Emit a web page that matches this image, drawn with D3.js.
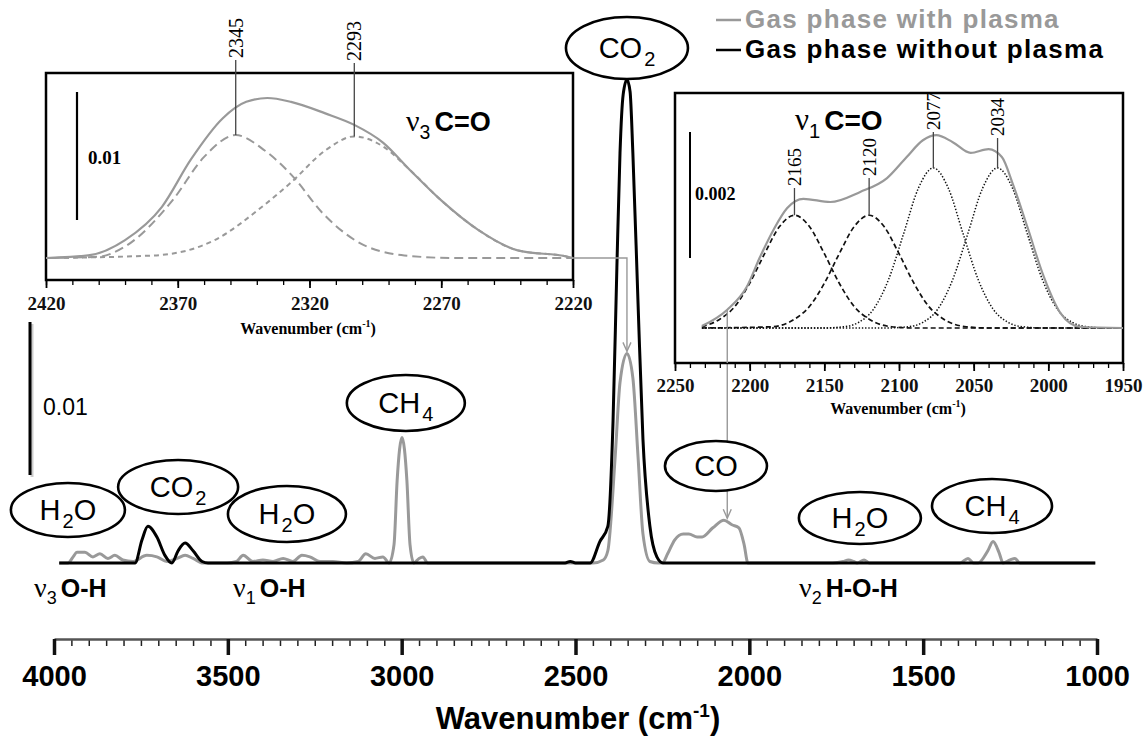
<!DOCTYPE html>
<html lang="en">
<head>
<meta charset="UTF-8">
<title>Gas phase FTIR spectra</title>
<style>
  body { margin: 0; background: #fff; }
  svg { display: block; font-family: "Liberation Sans", Arial, sans-serif; }
</style>
</head>
<body>
<svg id="chart" width="1145" height="739"></svg>
<script src="https://d3js.org/d3.v7.min.js"></script>
<script>
// ---- main spectra: [wavenumber (cm-1), absorbance] ----
const withPlasma = [
  [3985,0],[3960,0],[3945,0.0004],[3934,0.0007],[3911,0.0007],[3888,0.0004],[3868,0.0006],
  [3845,0.0003],[3825,0.0005],[3802,0.0002],[3773,0.0001],[3733,0.0005],[3704,0.0004],
  [3675,0.0001],[3646,0.0003],[3623,0.0005],[3600,0.0003],[3571,0],[3502,0],[3475,0.0001],
  [3456,0.0005],[3428,0.0001],[3399,0.0002],[3370,0.0001],[3341,0.0003],[3313,0.0001],
  [3287,0.0005],[3264,0.0004],[3235,0.0001],[3198,0.0001],[3158,0],[3125,0.0001],
  [3103,0.0006],[3077,0.0003],[3054,0.0004],[3036,0],[3022,0.0012],[3013,0.0054],
  [2999,0.0082],[2985,0.0054],[2976,0.0012],[2965,0],[2950,0.0003],[2939,0.0004],[2925,0],
  [2450,0],[2420,0.0002],[2407,0.0008],[2386,0.0069],[2372,0.0118],[2352,0.0137],
  [2335,0.0121],[2320,0.0069],[2306,0.0019],[2286,0.0001],[2262,0],[2250,0],[2235,0.0006],
  [2215,0.0015],[2190,0.0019],[2174,0.0019],[2150,0.0017],[2136,0.0017],[2105,0.0023],
  [2073,0.0028],[2050,0.0025],[2030,0.0023],[2015,0.0012],[2004,0],[1760,0],[1730,0.0001],
  [1715,0.0002],[1700,0.0001],[1690,0],[1670,0.0002],[1655,0],[1394,0],[1371,0.0003],
  [1355,0],[1342,0],[1314,0.0008],[1299,0.0014],[1282,0.0007],[1270,0],[1250,0.0002],
  [1236,0.0003],[1222,0],[1005,0]
];
const withoutPlasma = [
  [3985,0],[3767,0],[3747,0.0015],[3730,0.0024],[3704,0.0017],[3681,0.0005],[3661,0],
  [3643,0.0008],[3623,0.0013],[3600,0.0008],[3574,0.0001],[3557,0],[2530,0],[2515,0.0001],
  [2500,0],[2458,0],[2430,0.0014],[2407,0.0024],[2392,0.0093],[2381,0.0193],[2372,0.0268],
  [2363,0.0306],[2352,0.0316],[2343,0.0308],[2335,0.0268],[2320,0.0169],[2306,0.0081],
  [2286,0.0024],[2266,0.0004],[2248,0],[1005,0]
];

// ---- nu3 C=O inset (2420-2220 cm-1) ----
const v3Envelope = [
  [2420,0],[2404,0.0002],[2390,0.0014],[2376,0.0040],[2365,0.0077],[2353,0.0109],
  [2344,0.0122],[2336,0.0125],[2327,0.0122],[2314,0.0113],[2303,0.0104],[2292,0.0090],
  [2282,0.0069],[2270,0.0045],[2256,0.0022],[2241,0.0006],[2222,0.0001],[2220,0]
];
const v3Band2345 = [
  [2420,0],[2400,0.0001],[2390,0.0009],[2372,0.0045],[2360,0.0079],[2348,0.0096],
  [2337,0.0084],[2326,0.0063],[2315,0.0035],[2302,0.0013],[2284,0.0002],[2265,0],[2220,0]
];
const v3Band2293 = [
  [2420,0],[2379,0.0002],[2356,0.0014],[2338,0.0040],[2327,0.0059],[2314,0.0084],
  [2303,0.0095],[2292,0.0087],[2282,0.0069],[2270,0.0045],[2256,0.0022],[2241,0.0006],
  [2222,0.0001],[2220,0]
];
const v3PeakLabels = ["2345", "2293"];

// ---- nu1 C=O inset (2250-1950 cm-1) ----
const v1Envelope = [
  [2232,0.00003],[2215,0.00029],[2202,0.00065],[2193,0.00113],[2184,0.00156],[2175,0.0019],
  [2164,0.00205],[2146,0.002],[2126,0.00216],[2108,0.00238],[2095,0.00271],[2084,0.00298],
  [2075,0.00306],[2064,0.00295],[2052,0.00278],[2040,0.00284],[2031,0.00271],[2024,0.0023],
  [2014,0.0016],[2003,0.00081],[1992,0.00024],[1979,0.00002],[1950,0]
];
const v1Band2165 = [
  [2232,0.00002],[2220,0.00014],[2210,0.00034],[2200,0.00071],[2190,0.00118],[2180,0.00161],
  [2170,0.00179],[2160,0.00161],[2150,0.00118],[2140,0.00071],[2130,0.00034],[2120,0.00014],
  [2105,0.00002],[2090,0],[1950,0]
];
const v1Band2120 = [
  [2232,0],[2185,0.00002],[2170,0.00014],[2160,0.00034],[2150,0.00071],[2140,0.00118],
  [2130,0.00161],[2120,0.00179],[2110,0.00161],[2100,0.00118],[2090,0.00071],[2080,0.00034],
  [2070,0.00014],[2055,0.00002],[2040,0],[1950,0]
];
const v1Band2077 = [
  [2232,0],[2152,0],[2137,0.00002],[2127,0.00009],[2117,0.0003],[2107,0.00077],[2097,0.00149],
  [2087,0.00222],[2077,0.00254],[2067,0.00222],[2057,0.00149],[2047,0.00077],[2037,0.0003],
  [2027,0.00009],[2017,0.00002],[2002,0],[1950,0]
];
const v1Band2034 = [
  [2232,0],[2109,0],[2094,0.00002],[2084,0.00009],[2074,0.0003],[2064,0.00077],[2054,0.00149],
  [2044,0.00222],[2034,0.00254],[2024,0.00222],[2014,0.00149],[2004,0.00077],[1994,0.0003],
  [1984,0.00009],[1974,0.00002],[1960,0],[1950,0]
];
const v1PeakLabels = ["2165", "2120", "2077", "2034"];

// ---- ticks / texts ----
const mainTicks = d3.range(4000, 999, -500);
const mainMinorTicks = d3.range(4000, 999, -50);
const v3Ticks = d3.range(2420, 2219, -50);
const v3MinorTicks = d3.range(2420, 2219, -10);
const v1Ticks = d3.range(2250, 1949, -50);
const v1MinorTicks = d3.range(2250, 1949, -10);
const legendLabels = ["Gas phase with plasma", "Gas phase without plasma"];
const species = [["H","2","O"], ["CO","2",""], ["H","2","O"], ["CH","4",""],
                 ["CO","2",""], ["CO","",""], ["H","2","O"], ["CH","4",""]];
const modes = [["3","O-H"], ["1","O-H"], ["2","H-O-H"]];

// ---- layout (pixels) ----
const speciesPos = [
  {wn:3960, y:510, rx:57, ry:27}, {wn:3643, y:487, rx:60, ry:27}, {wn:3330, y:514, rx:59, ry:28},
  {wn:2988, y:403, rx:59, ry:28}, {wn:2352, y:48, rx:61, ry:31}, {wn:2096, y:466, rx:51, ry:25},
  {wn:1682, y:518, rx:61, ry:26}, {wn:1302, y:506, rx:60, ry:27}
];
const modePos = [{x:34, y:597}, {x:233, y:597}, {x:799, y:597}];
const v3LeaderTop = [60, 63];
const v1LeaderTop = [188, 178, 132, 138];

const grey = "#999";
const fmt = d3.format("d");
const svg = d3.select("#chart");

const line = (sx, sy) => d3.line()
  .x(d => sx(d[0])).y(d => sy(d[1]))
  .curve(d3.curveMonotoneX);

// ================= main panel =================
const x = d3.scaleLinear().domain([4000, 1000]).range([54, 1097]);
const y = d3.scaleLinear().domain([0, 0.01]).range([563, 410]);

// 0.01 scale bar
const barLen = y(0) - y(0.01);
svg.append("line").attr("x1", 32).attr("x2", 32).attr("y1", 477).attr("y2", 477 - barLen)
  .attr("stroke", "#ccc").attr("stroke-width", 3);
svg.append("line").attr("x1", 30).attr("x2", 30).attr("y1", 475).attr("y2", 475 - barLen)
  .attr("stroke", "#000").attr("stroke-width", 3);
svg.append("text").attr("x", 43).attr("y", 415).attr("font-size", 23).text("0.01");

svg.append("path").datum(withPlasma).attr("d", line(x, y))
  .attr("fill", "none").attr("stroke", grey).attr("stroke-width", 3);
svg.append("path").datum(withoutPlasma).attr("d", line(x, y))
  .attr("fill", "none").attr("stroke", "#000").attr("stroke-width", 3);

// x axis
const minorAxis = svg.append("g").attr("transform", "translate(0,639)")
  .call(d3.axisBottom(x).tickValues(mainMinorTicks).tickSize(7).tickSizeOuter(0).tickFormat(""));
minorAxis.select(".domain").remove();
minorAxis.selectAll(".tick line").attr("stroke", "#222").attr("stroke-width", 1.5);

const majorAxis = svg.append("g").attr("transform", "translate(0,639)")
  .call(d3.axisBottom(x).tickValues(mainTicks).tickSize(16).tickPadding(10)
    .tickSizeOuter(0).tickFormat(fmt));
majorAxis.select(".domain").attr("stroke", "#555").attr("stroke-width", 2.5);
majorAxis.selectAll(".tick line").attr("stroke", "#111").attr("stroke-width", 3.5);
majorAxis.selectAll(".tick text").attr("fill", "#000")
  .attr("font-family", "'Liberation Sans', Arial, sans-serif")
  .attr("font-size", 29).attr("font-weight", "bold");

const title = svg.append("text").attr("x", 578).attr("y", 729)
  .attr("text-anchor", "middle").attr("font-size", 31).attr("font-weight", "bold");
title.append("tspan").text("Wavenumber (cm");
title.append("tspan").attr("font-size", 19).attr("dy", -12).text("-1");
title.append("tspan").attr("dy", 12).text(")");

// species bubbles
species.forEach((s, i) => {
  const p = speciesPos[i];
  const cx = x(p.wn);
  svg.append("ellipse").attr("cx", cx).attr("cy", p.y).attr("rx", p.rx).attr("ry", p.ry)
    .attr("fill", "#fff").attr("stroke", "#000").attr("stroke-width", 2.6);
  const t = svg.append("text").attr("x", cx).attr("y", p.y + 10)
    .attr("text-anchor", "middle").attr("font-size", 29);
  t.append("tspan").text(s[0]);
  if (s[1]) t.append("tspan").attr("font-size", 20).attr("dy", 8).attr("dx", 2).text(s[1]);
  if (s[2]) t.append("tspan").attr("dy", -8).text(s[2]);
});

// vibration mode labels
function nuLabel(g, px, py, sub, txt, size) {
  const t = g.append("text").attr("x", px).attr("y", py);
  t.append("tspan").attr("font-family", "'Liberation Serif', serif").attr("font-size", size + 3).text("ν");
  t.append("tspan").attr("font-size", size * 0.72).attr("dy", size * 0.28).text(sub);
  t.append("tspan").attr("font-size", size).attr("font-weight", "bold")
    .attr("dy", -size * 0.28).attr("dx", 4).text(txt);
  return t;
}
modes.forEach((m, i) => nuLabel(svg, modePos[i].x, modePos[i].y, m[0], m[1], 25));

// legend
legendLabels.forEach((lab, i) => {
  const ly = [20, 50][i];
  const col = i === 0 ? grey : "#000";
  svg.append("line").attr("x1", 716).attr("x2", 741).attr("y1", ly).attr("y2", ly)
    .attr("stroke", col).attr("stroke-width", 2.5);
  svg.append("text").attr("x", 745).attr("y", ly + 8).attr("font-size", 26)
    .attr("letter-spacing", 1.3).attr("font-weight", "bold").attr("fill", col).text(lab);
});

// ================= inset nu3 C=O =================
const x3 = d3.scaleLinear().domain([2420, 2220]).range([46, 573]);
const y3 = d3.scaleLinear().domain([0, 0.01]).range([258, 130]);
const in3 = svg.append("g");
in3.append("rect").attr("x", 46).attr("y", 73).attr("width", 527).attr("height", 207)
  .attr("fill", "#fff").attr("stroke", "#000").attr("stroke-width", 2.5);

const in3Minor = in3.append("g").attr("transform", "translate(0,280)")
  .call(d3.axisBottom(x3).tickValues(v3MinorTicks).tickSize(5).tickSizeOuter(0).tickFormat(""));
in3Minor.select(".domain").remove();
in3Minor.selectAll(".tick line").attr("stroke", "#000").attr("stroke-width", 1.3);
const in3Axis = in3.append("g").attr("transform", "translate(0,280)")
  .call(d3.axisBottom(x3).tickValues(v3Ticks).tickSize(8).tickPadding(9).tickSizeOuter(0).tickFormat(fmt));
in3Axis.select(".domain").remove();
in3Axis.selectAll(".tick line").attr("stroke", "#000").attr("stroke-width", 1.8);
in3Axis.selectAll(".tick text").attr("fill", "#111")
  .attr("font-family", "'Liberation Serif', serif").attr("font-size", 19).attr("font-weight", "bold");
const t3 = in3.append("text").attr("x", 308).attr("y", 334).attr("text-anchor", "middle")
  .attr("font-family", "'Liberation Serif', serif").attr("font-size", 16).attr("font-weight", "bold");
t3.append("tspan").text("Wavenumber (cm");
t3.append("tspan").attr("font-size", 10).attr("dy", -7).text("-1");
t3.append("tspan").attr("dy", 7).text(")");

in3.append("line").attr("x1", 77).attr("x2", 77).attr("y1", 220).attr("y2", 220 - (y3(0) - y3(0.01)))
  .attr("stroke", "#000").attr("stroke-width", 2.2);
in3.append("text").attr("x", 88).attr("y", 164).attr("font-family", "'Liberation Serif', serif")
  .attr("font-size", 19).attr("font-weight", "bold").text("0.01");

[v3Band2345, v3Band2293].forEach((band, i) => {
  in3.append("path").datum(band).attr("d", line(x3, y3)).attr("fill", "none")
    .attr("stroke", grey).attr("stroke-width", 2).attr("stroke-dasharray", i === 0 ? "9,5" : "5,4");
});
in3.append("path").datum(v3Envelope).attr("d", line(x3, y3)).attr("fill", "none")
  .attr("stroke", grey).attr("stroke-width", 2.2);
nuLabel(in3, 406, 131, "3", "C=O", 27);

// peak leaders nu3
[v3Band2345, v3Band2293].forEach((band, i) => {
  const pk = d3.greatest(band, d => d[1]);
  const px = x3(pk[0]);
  svg.append("line").attr("x1", px).attr("x2", px).attr("y1", y3(pk[1])).attr("y2", v3LeaderTop[i])
    .attr("stroke", "#444").attr("stroke-width", 1.3);
  svg.append("text").attr("transform", `translate(${px},${v3LeaderTop[i] - 2}) rotate(-90)`)
    .attr("dy", "0.35em").attr("font-family", "'Liberation Serif', serif").attr("font-size", 20)
    .text(v3PeakLabels[i]);
});

// ================= inset nu1 C=O =================
const x1 = d3.scaleLinear().domain([2250, 1950]).range([675, 1123]);
const y1 = d3.scaleLinear().domain([0, 0.002]).range([328, 202]);
const in1 = svg.append("g");
in1.append("rect").attr("x", 675).attr("y", 93).attr("width", 448).attr("height", 270)
  .attr("fill", "#fff").attr("stroke", "#000").attr("stroke-width", 2.5);

const in1Minor = in1.append("g").attr("transform", "translate(0,363)")
  .call(d3.axisBottom(x1).tickValues(v1MinorTicks).tickSize(5).tickSizeOuter(0).tickFormat(""));
in1Minor.select(".domain").remove();
in1Minor.selectAll(".tick line").attr("stroke", "#000").attr("stroke-width", 1.3);
const in1Axis = in1.append("g").attr("transform", "translate(0,363)")
  .call(d3.axisBottom(x1).tickValues(v1Ticks).tickSize(8).tickPadding(8).tickSizeOuter(0).tickFormat(fmt));
in1Axis.select(".domain").remove();
in1Axis.selectAll(".tick line").attr("stroke", "#000").attr("stroke-width", 1.8);
in1Axis.selectAll(".tick text").attr("fill", "#111")
  .attr("font-family", "'Liberation Serif', serif").attr("font-size", 19).attr("font-weight", "bold");
const t1 = in1.append("text").attr("x", 898).attr("y", 414).attr("text-anchor", "middle")
  .attr("font-family", "'Liberation Serif', serif").attr("font-size", 16).attr("font-weight", "bold");
t1.append("tspan").text("Wavenumber (cm");
t1.append("tspan").attr("font-size", 10).attr("dy", -7).text("-1");
t1.append("tspan").attr("dy", 7).text(")");

in1.append("line").attr("x1", 690).attr("x2", 690).attr("y1", 258).attr("y2", 258 - (y1(0) - y1(0.002)))
  .attr("stroke", "#000").attr("stroke-width", 2);
in1.append("text").attr("x", 695).attr("y", 200).attr("font-family", "'Liberation Serif', serif")
  .attr("font-size", 18).attr("font-weight", "bold").text("0.002");

const v1Bands = [v1Band2165, v1Band2120, v1Band2077, v1Band2034];
v1Bands.forEach((band, i) => {
  in1.append("path").datum(band).attr("d", line(x1, y1)).attr("fill", "none")
    .attr("stroke", "#111").attr("stroke-width", i < 2 ? 1.7 : 1.5)
    .attr("stroke-dasharray", i < 2 ? "5,3" : "1.4,1.8");
});
in1.append("path").datum(v1Envelope).attr("d", line(x1, y1)).attr("fill", "none")
  .attr("stroke", grey).attr("stroke-width", 2.2);
nuLabel(in1, 795, 130, "1", "C=O", 28);

v1Bands.forEach((band, i) => {
  const pk = d3.greatest(band, d => d[1]);
  const px = x1(pk[0]);
  svg.append("line").attr("x1", px).attr("x2", px).attr("y1", y1(pk[1])).attr("y2", v1LeaderTop[i])
    .attr("stroke", "#444").attr("stroke-width", 1.3);
  svg.append("text").attr("transform", `translate(${px},${v1LeaderTop[i] - 2}) rotate(-90)`)
    .attr("dy", "0.35em").attr("font-family", "'Liberation Serif', serif").attr("font-size", 19)
    .text(v1PeakLabels[i]);
});

// ================= connectors =================
function arrowHead(tx, ty) {
  svg.append("path").attr("d", `M${tx - 4},${ty - 9}L${tx},${ty}L${tx + 4},${ty - 9}`)
    .attr("fill", "none").attr("stroke", grey).attr("stroke-width", 1.4);
}
const co2Peak = d3.greatest(withPlasma.filter(d => d[0] < 2500 && d[0] > 2250), d => d[1]);
const cx2 = x(co2Peak[0]), cy2 = y(co2Peak[1]) - 2;
svg.append("path").attr("d", `M${x3(2220)},${y3(0)}H${cx2}V${cy2}`)
  .attr("fill", "none").attr("stroke", grey).attr("stroke-width", 1.4);
arrowHead(cx2, cy2);

const coPeak = d3.greatest(withPlasma.filter(d => d[0] < 2240 && d[0] > 2000), d => d[1]);
const ax = x1(2215), ay2 = y(coPeak[1]) - 2;
svg.append("line").attr("x1", ax).attr("x2", ax).attr("y1", y1(0.00029)).attr("y2", 363)
  .attr("stroke", grey).attr("stroke-width", 1.4);
svg.insert("line", "ellipse").attr("x1", ax).attr("x2", ax).attr("y1", 363).attr("y2", ay2)
  .attr("stroke", grey).attr("stroke-width", 1.4);
arrowHead(ax, ay2);
</script>
</body>
</html>
